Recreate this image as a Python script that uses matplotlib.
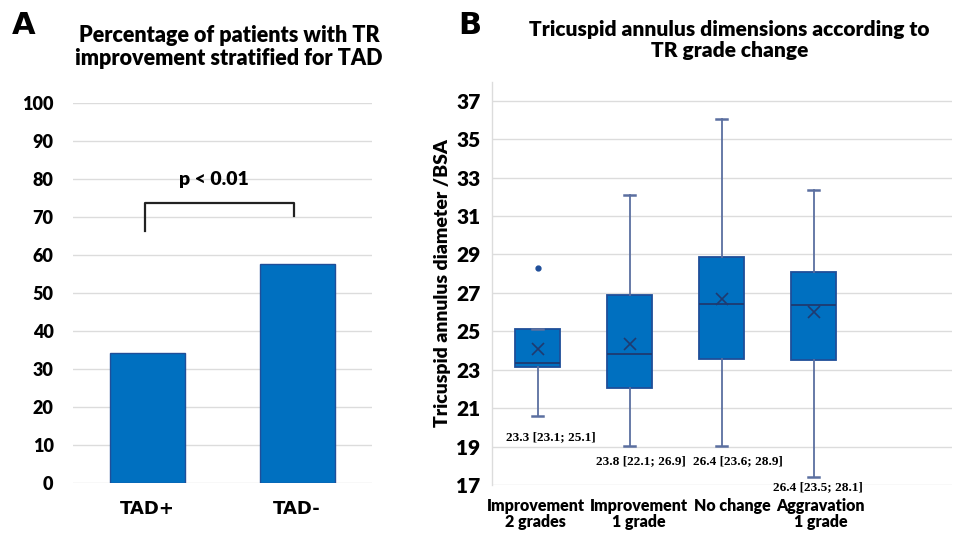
import numpy as np
import matplotlib
matplotlib.use('Agg')
import matplotlib.pyplot as plt
from matplotlib.transforms import offset_copy

plt.rcParams['font.family'] = ['Lato', 'DejaVu Sans']
PESO = 'heavy'

# Panel A datos
grupos = ['TAD+', 'TAD-']
porcentajes = [34.2, 57.6]

# Panel B datos
categorias = ['Improvement\n2 grades', 'Improvement\n1 grade', 'No change', 'Aggravation\n1 grade']
q1 = [23.15, 22.05, 23.57, 23.5]
mediana = [23.33, 23.8, 26.4, 26.35]
q3 = [25.1, 26.9, 28.88, 28.1]
bigote_inf = [20.6, 19.04, 19.04, 17.4]
bigote_sup = [25.1, 32.1, 36.04, 32.38]
media = [24.1, 24.34, 26.68, 25.98]
atipicos = [[28.3], [], [], []]
etiquetas = ['23.3 [23.1; 25.1]', '23.8 [22.1; 26.9]', '26.4 [23.6; 28.9]', '26.4 [23.5; 28.1]']
etiq_y = [19.5, 18.26, 18.26, 16.88]
etiq_dx = [0.14, 0.12, 0.18, 0.05]
# desplazamiento horizontal (pt) de las etiquetas del eje x, como en el original
etiq_x_off = [-1.5, 6.5, 8, 5]

azul = '#0070C0'
borde = '#1F4E99'
bigote = '#5B6FA0'
gris = '#DCDCDC'

fig = plt.figure(figsize=(9.66, 5.33), dpi=100)

# ---------------- Panel A ----------------
axA = fig.add_axes([0.0756, 0.0938, 0.3094, 0.713])
x = np.arange(len(grupos))
axA.bar(x, porcentajes, width=0.5, color=azul, edgecolor=borde, linewidth=1, zorder=3)
axA.set_xlim(-0.5, 1.5)
axA.set_ylim(0, 100)
axA.set_yticks(np.arange(0, 101, 10))
axA.set_xticks(x)
axA.set_xticklabels(grupos, fontsize=13, fontweight='bold', family=['DejaVu Sans'])
axA.tick_params(axis='both', length=0, labelsize=13)
axA.tick_params(axis='y', pad=14)
axA.tick_params(axis='x', pad=12)
for t in axA.get_yticklabels():
    t.set_fontweight(PESO)
axA.yaxis.grid(True, color=gris, linewidth=1, zorder=0)
for s in axA.spines.values():
    s.set_visible(False)
# corchete de significancia
axA.plot([-0.02, -0.02, 0.98, 0.98], [66.2, 73.7, 73.7, 70.2], color='#222222', lw=1.6, zorder=4)
axA.text(0.44, 77.5, 'p < 0.01', ha='center', va='bottom', fontsize=14, fontweight=PESO)
fig.text(0.237, 0.912, 'Percentage of patients with TR\nimprovement stratified for TAD',
         ha='center', va='center', fontsize=15.5, fontweight=PESO, linespacing=1.1)
fig.text(0.012, 0.952, 'A', fontsize=22, fontweight='bold', family=['DejaVu Sans'], va='center')

# ---------------- Panel B ----------------
axB = fig.add_axes([0.509, 0.09, 0.476, 0.757])
stats = []
for i in range(len(categorias)):
    stats.append(dict(med=mediana[i], q1=q1[i], q3=q3[i], whislo=bigote_inf[i],
                      whishi=bigote_sup[i], mean=media[i], fliers=atipicos[i]))
pos = np.arange(len(categorias))
axB.bxp(stats, positions=pos, widths=0.49, showmeans=True, patch_artist=True,
        boxprops=dict(facecolor=azul, edgecolor=borde, linewidth=1.3),
        medianprops=dict(color='#1F3A70', linewidth=1.3),
        whiskerprops=dict(color=bigote, linewidth=1.3),
        capprops=dict(color=bigote, linewidth=1.8),
        capwidths=0.12,
        meanprops=dict(marker='x', markeredgecolor='#1F3A70', markersize=8, markeredgewidth=1.2),
        flierprops=dict(marker='o', markerfacecolor='#1F4E99', markeredgecolor='#1F4E99', markersize=3.5),
        zorder=3)
for i in range(len(categorias)):
    axB.text(pos[i] + etiq_dx[i], etiq_y[i], etiquetas[i], ha='center', va='center',
             fontsize=9.5, fontweight='bold', clip_on=False, family=['Liberation Serif'])
axB.set_xlim(-0.5, 4.5)
axB.set_ylim(17, 38)
axB.set_yticks(np.arange(17, 38, 2))
axB.set_xticks(pos)
axB.set_xticklabels(categorias, fontsize=11.5, fontweight=PESO, linespacing=1.0)
axB.tick_params(axis='both', length=0)
axB.tick_params(axis='y', labelsize=15, pad=8)
axB.tick_params(axis='x', pad=9)
for t in axB.get_yticklabels():
    t.set_fontweight(PESO)
for t, dx in zip(axB.get_xticklabels(), etiq_x_off):
    t.set_transform(offset_copy(t.get_transform(), fig=fig, x=dx, y=0, units='points'))
axB.yaxis.grid(True, color=gris, linewidth=1, zorder=0)
for k, s in axB.spines.items():
    if k == 'left':
        s.set_color(gris)
        s.set_linewidth(1)
    else:
        s.set_visible(False)
axB.set_ylabel('Tricuspid annulus diameter /BSA', fontsize=14, fontweight=PESO, labelpad=4)
fig.text(0.755, 0.925, 'Tricuspid annulus dimensions according to\nTR grade change',
         ha='center', va='center', fontsize=15, fontweight=PESO, linespacing=1.1)
fig.text(0.474, 0.952, 'B', fontsize=22, fontweight='bold', family=['DejaVu Sans'], va='center')

fig.savefig('out.png', dpi=100)
